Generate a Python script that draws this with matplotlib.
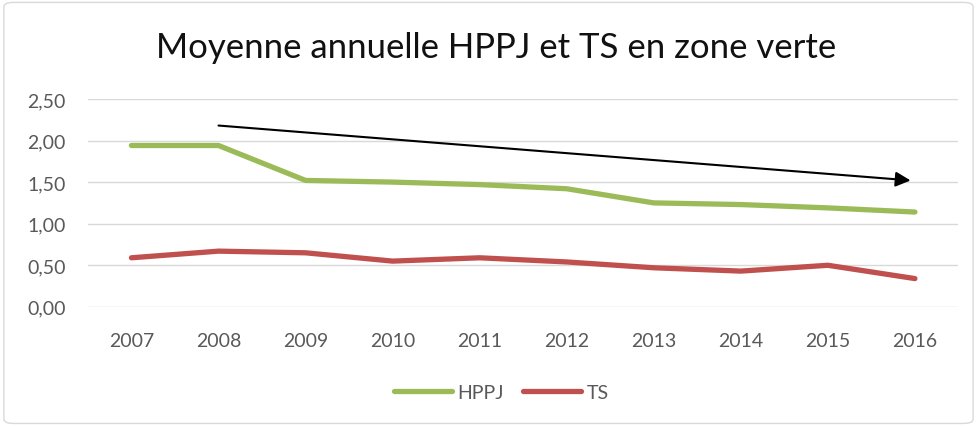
import matplotlib
matplotlib.use("Agg")
import matplotlib.pyplot as plt
from matplotlib.patches import FancyBboxPatch

years = ["2007", "2008", "2009", "2010", "2011", "2012", "2013", "2014", "2015", "2016"]
hppj = [1.94, 1.94, 1.52, 1.50, 1.47, 1.42, 1.25, 1.23, 1.19, 1.14]
ts = [0.59, 0.67, 0.65, 0.55, 0.59, 0.54, 0.47, 0.43, 0.50, 0.34]
yticks = [0.0, 0.5, 1.0, 1.5, 2.0, 2.5]
ytick_labels = ["0,00", "0,50", "1,00", "1,50", "2,00", "2,50"]
title = "Moyenne annuelle HPPJ et TS en zone verte"
arrow_start = (1, 2.18)
arrow_end = (8.95, 1.52)

plt.rcParams['font.family'] = ['Lato', 'DejaVu Sans']

fig = plt.figure(figsize=(9.77, 4.27), dpi=100)
fig.patch.set_facecolor("white")
border = FancyBboxPatch((0.004, 0.006), 0.992, 0.986, boxstyle="round,pad=0,rounding_size=0.01",
                        transform=fig.transFigure, facecolor="none", edgecolor="#D9D9D9", lw=1.0)
fig.add_artist(border)

ax = fig.add_axes([0.090, 0.279, 0.891, 0.487])
x = list(range(len(years)))
ax.plot(x, hppj, color="#9BBB59", lw=3.8, solid_capstyle="round", label="HPPJ", zorder=3)
ax.plot(x, ts, color="#C0504D", lw=3.8, solid_capstyle="round", label="TS", zorder=3)

ax.annotate("", xy=arrow_end, xytext=arrow_start,
            arrowprops=dict(arrowstyle="-|>,head_length=0.9,head_width=0.45", color="black", lw=1.5,
                            shrinkA=0, shrinkB=0), zorder=4)

ax.set_xlim(-0.5, len(years) - 0.5)
ax.set_ylim(0, 2.5)
ax.set_yticks(yticks)
ax.set_yticklabels(ytick_labels)
ax.set_xticks(x)
ax.set_xticklabels(years)
ax.grid(axis="y", color="#D9D9D9", lw=1.0)
ax.set_axisbelow(True)
for s in ax.spines.values():
    s.set_visible(False)
ax.tick_params(axis="both", length=0, colors="#595959", labelsize=14)
ax.tick_params(axis="y", pad=16)
ax.tick_params(axis="x", pad=18)

fig.text(0.508, 0.888, title, ha="center", va="center", fontsize=25, color="#111111")

leg = fig.legend(loc="center", bbox_to_anchor=(0.513, 0.078), ncol=2, frameon=False,
                 fontsize=14, handlelength=3.0, handletextpad=0.25, columnspacing=1.0)
for t in leg.get_texts():
    t.set_color("#595959")

fig.savefig("out.png", dpi=100)
